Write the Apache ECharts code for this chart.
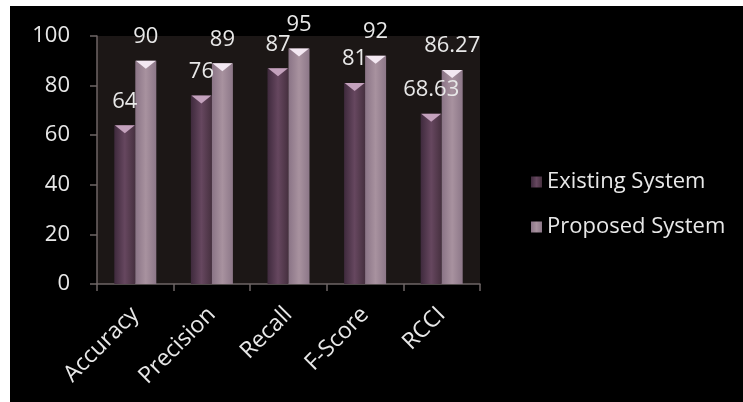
<!DOCTYPE html>
<html>
<head>
<meta charset="utf-8">
<script src="https://cdn.jsdelivr.net/npm/echarts@6/dist/echarts.min.js"></script>
<style>
html,body{margin:0;padding:0;background:#ffffff;}
#c{position:absolute;left:10px;top:6px;width:733px;height:396px;background:#000;}
</style>
</head>
<body>
<div id="c"></div>
<script>
const categories = ['Accuracy', 'Precision', 'Recall', 'F-Score', 'RCCI'];
const existingSystem = [64, 76, 87, 81, 68.63];
const proposedSystem = [90, 89, 95, 92, 86.27];
const seriesNames = ['Existing System', 'Proposed System'];
const yMin = 0, yMax = 100, yStep = 20;

const FONT = '"Open Sans"';
const chart = echarts.init(document.getElementById('c'));

function grad(a, b, c) {
  return new echarts.graphic.LinearGradient(0, 0, 1, 0, [
    {offset: 0, color: a}, {offset: 0.5, color: b}, {offset: 1, color: c}
  ]);
}
function tops(vals) {
  return vals.map((v, i) => ({coord: [i, v]}));
}

chart.setOption({
  backgroundColor: '#000000',
  textStyle: {fontFamily: FONT},
  grid: {left: 87, right: 263, top: 30, bottom: 118, show: true, backgroundColor: '#1c1716', borderWidth: 0},
  legend: {
    orient: 'vertical', left: 516, top: 160, itemGap: 23, itemWidth: 11, itemHeight: 11,
    icon: 'rect',
    textStyle: {color: '#e8e8e8', fontSize: 22, fontFamily: FONT},
    data: seriesNames
  },
  xAxis: {
    type: 'category', data: categories,
    axisLine: {lineStyle: {color: '#6e6565', width: 1.5}},
    axisTick: {show: true, length: 7, interval: 0, lineStyle: {color: '#6e6565', width: 1.5}},
    axisLabel: {rotate: 45, interval: 0, color: '#e8e8e8', fontSize: 23, margin: 27, fontFamily: FONT}
  },
  yAxis: {
    type: 'value', min: yMin, max: yMax, interval: yStep,
    axisLine: {show: true, lineStyle: {color: '#6e6565', width: 1.5}},
    axisTick: {show: true, length: 7, lineStyle: {color: '#6e6565', width: 1.5}},
    splitLine: {show: false},
    axisLabel: {color: '#e8e8e8', fontSize: 22, margin: 27, fontFamily: FONT}
  },
  series: [
    {
      name: seriesNames[0], type: 'bar', data: existingSystem, barWidth: 21, barGap: '0%',
      itemStyle: {color: grad('#3f2a3d', '#66475f', '#46303f')},
      label: {show: true, position: 'top', distance: 13, color: '#e8e8e8', fontSize: 22, fontFamily: FONT},
      markPoint: {
        silent: true, symbol: 'triangle', symbolRotate: 180, symbolSize: [20, 8], symbolOffset: [0, 4],
        label: {show: false}, itemStyle: {color: '#c4a2bd'}, data: tops(existingSystem)
      }
    },
    {
      name: seriesNames[1], type: 'bar', data: proposedSystem, barWidth: 21,
      itemStyle: {color: grad('#8a7486', '#a8929f', '#8c7788')},
      label: {show: true, position: 'top', distance: 13, color: '#e8e8e8', fontSize: 22, fontFamily: FONT},
      markPoint: {
        silent: true, symbol: 'triangle', symbolRotate: 180, symbolSize: [20, 8], symbolOffset: [0, 4],
        label: {show: false}, itemStyle: {color: '#f3e8f2'}, data: tops(proposedSystem)
      }
    }
  ]
});
</script>
</body>
</html>
